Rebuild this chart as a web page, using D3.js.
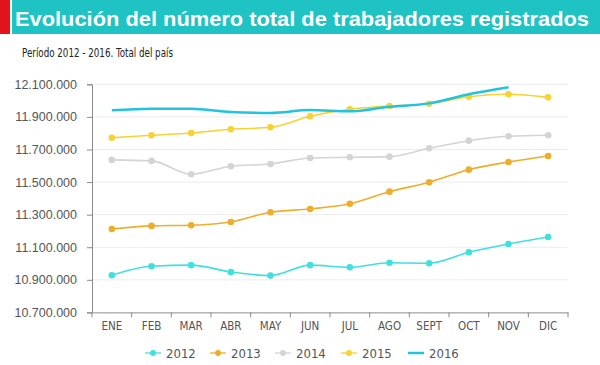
<!DOCTYPE html>
<html><head><meta charset="utf-8">
<script src="https://cdnjs.cloudflare.com/ajax/libs/d3/7.8.5/d3.min.js"></script>
<style>body{margin:0;background:#fff}svg{display:block}</style>
</head><body><svg id="c" width="600" height="365"></svg>
<script>
const months = ["ENE","FEB","MAR","ABR","MAY","JUN","JUL","AGO","SEPT","OCT","NOV","DIC"];
const yTicks = [10700000,10900000,11100000,11300000,11500000,11700000,11900000,12100000];
const s2012 = [10928000,10983000,10990000,10948000,10926000,10990000,10977000,11005000,11002000,11069000,11120000,11163000];
const s2013 = [11212000,11231000,11235000,11255000,11315000,11335000,11367000,11441000,11499000,11576000,11623000,11660000];
const s2014 = [11636000,11630000,11548000,11597000,11611000,11648000,11652000,11656000,11707000,11754000,11781000,11787000];
const s2015 = [11772000,11787000,11801000,11824000,11836000,11904000,11947000,11967000,11981000,12024000,12039000,12020000];
const s2016 = [11940000,11950000,11950000,11930000,11924000,11942000,11934000,11962000,11983000,12039000,12082000];
const seriesNames = ["2012","2013","2014","2015","2016"];
const seriesColors = ["#3fe0df","#eeae2c","#d4d4d4","#f6d232","#22c3df"];
const seriesData = [s2012,s2013,s2014,s2015,s2016];

const svg = d3.select("#c");
// header
svg.append("rect").attr("x",0).attr("y",0).attr("width",10).attr("height",34).attr("fill","#e1141e");
svg.append("rect").attr("x",12).attr("y",0).attr("width",588).attr("height",34).attr("fill","#1fc3c3");
svg.append("text").attr("x",15).attr("y",25.5).attr("fill","#fff")
  .attr("font-family","Liberation Sans, Arial, sans-serif").attr("font-weight","bold").attr("font-size",21)
  .attr("textLength",574).attr("lengthAdjust","spacingAndGlyphs")
  .text("Evolución del número total de trabajadores registrados");
svg.append("text").attr("x",22).attr("y",57).attr("fill","#222")
  .attr("font-family","Liberation Sans Narrow, DejaVu Sans Condensed, sans-serif").attr("font-size",12.5)
  .attr("textLength",151).attr("lengthAdjust","spacingAndGlyphs")
  .text("Período 2012 - 2016. Total del país");

const L = 92, R = 568, T = 84.3, B = 312.4;
const x = d3.scaleBand().domain(months).range([L,R]);
const y = d3.scaleLinear().domain([10700000,12100000]).range([B,T]);
const fmt = v => d3.format(",")(v).replace(/,/g,".");

// grid
svg.append("g").selectAll("line").data(yTicks.slice(1)).join("line")
  .attr("x1",L).attr("x2",R).attr("y1",d=>y(d)).attr("y2",d=>y(d))
  .attr("stroke","#ececec").attr("stroke-width",1);

// y axis
const ya = svg.append("g").attr("transform",`translate(${L},0)`)
  .call(d3.axisLeft(y).tickValues(yTicks).tickFormat(fmt).tickSize(5).tickPadding(10));
ya.select(".domain").attr("stroke","#8a8a8a");
ya.selectAll(".tick line").attr("stroke","#8a8a8a");
ya.selectAll("text").attr("font-family","Liberation Sans, Arial, sans-serif").attr("font-size",12.5).attr("fill","#555");

// x axis
const xa = svg.append("g").attr("transform",`translate(0,${B})`)
  .call(d3.axisBottom(x).tickSize(0).tickPadding(9));
xa.select(".domain").attr("stroke","#8a8a8a");
xa.selectAll("text").attr("font-family","Liberation Sans Narrow, DejaVu Sans Condensed, sans-serif").attr("font-size",11.5).attr("fill","#555");
const bounds = months.map(m=>x(m)).concat([R]);
svg.append("g").selectAll("line").data(bounds).join("line")
  .attr("x1",d=>d).attr("x2",d=>d).attr("y1",B).attr("y2",B+5).attr("stroke","#8a8a8a");

const line = d3.line().x((d,i)=>x(months[i])+x.bandwidth()/2).y(d=>y(d)).curve(d3.curveMonotoneX);
const order = [2,1,0,3,4];
order.forEach(k=>{
  const g = svg.append("g");
  g.append("path").attr("d",line(seriesData[k])).attr("fill","none")
    .attr("stroke",seriesColors[k]).attr("stroke-width",k===4?2.5:1.6);
  if(k!==4){
    g.selectAll("circle").data(seriesData[k]).join("circle")
      .attr("cx",(d,i)=>x(months[i])+x.bandwidth()/2).attr("cy",d=>y(d)).attr("r",3.3)
      .attr("fill",seriesColors[k]);
  }
});

// legend
const lx = [145,210,275,341,408];
seriesNames.forEach((n,k)=>{
  const g = svg.append("g").attr("transform",`translate(${lx[k]},353)`);
  g.append("line").attr("x1",0).attr("x2",16).attr("y1",0).attr("y2",0).attr("stroke",seriesColors[k]).attr("stroke-width",k===4?2.5:1.3);
  if(k!==4) g.append("circle").attr("cx",8).attr("cy",0).attr("r",3).attr("fill",seriesColors[k]);
  g.append("text").attr("x",21).attr("y",4.5).attr("fill","#555")
    .attr("font-family","Liberation Sans Narrow, DejaVu Sans Condensed, sans-serif").attr("font-size",13).text(n);
});
</script></body></html>
